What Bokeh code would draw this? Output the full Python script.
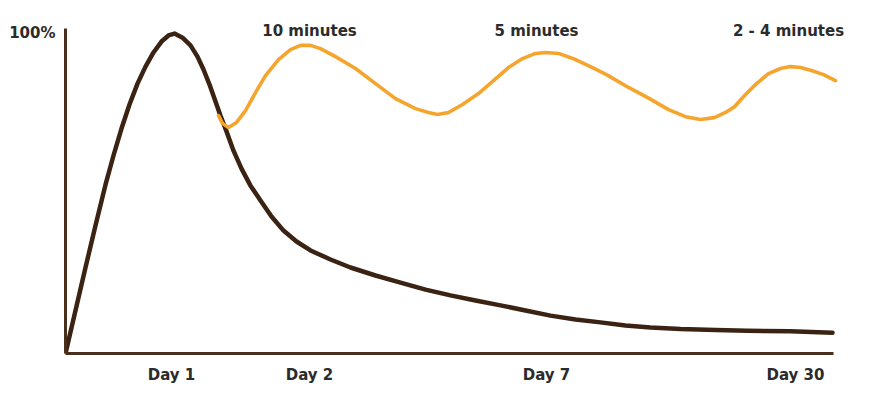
from bokeh.plotting import figure
from bokeh.models import FixedTicker, ColumnDataSource
from bokeh.core.properties import value
from bokeh.embed import file_html
from bokeh.resources import INLINE

# ---- data (x in arbitrary time-position units, y in % retention) ----
memory_x = [0, 10, 20, 30, 40, 48, 56, 64, 72, 80, 88, 96, 103, 109, 117, 125,
            132, 138, 144, 150, 155, 161, 168, 176, 185, 195, 206, 218, 231, 245,
            265, 285, 310, 335, 360, 385, 410, 435, 460, 485, 510, 535, 560, 585,
            615, 650, 682, 725, 767]
memory_y = [0, 13.4, 26.8, 39.9, 52.6, 61.7, 70.1, 77.6, 84.1, 89.4, 93.8, 97.2,
            99.1, 99.7, 98.4, 96.0, 92.5, 88.5, 83.8, 78.5, 74.1, 69.2, 63.2, 57.6,
            52.3, 47.7, 42.7, 38.3, 34.9, 32.1, 29.3, 26.8, 24.3, 22.1, 19.9, 18.1,
            16.5, 15.0, 13.4, 11.8, 10.6, 9.7, 8.7, 8.1, 7.6, 7.3, 7.1, 6.9, 6.5]

review_x = [153, 157, 163, 171, 180, 190, 200, 213, 225, 235, 245, 255, 270, 290,
            310, 330, 350, 363, 372, 383, 397, 413, 428, 443, 457, 470, 480, 493,
            510, 527, 541, 563, 584, 603, 620, 635, 649, 660, 669, 680, 691, 703,
            715, 725, 735, 746, 758, 770]
review_y = [74.1, 71.7, 70.4, 72.0, 75.7, 81.3, 86.6, 91.6, 94.7, 96.0, 96.0, 95.0,
            92.5, 88.8, 84.1, 79.4, 76.3, 75.1, 74.5, 75.1, 77.6, 81.0, 85.0, 89.1,
            91.9, 93.5, 93.8, 93.5, 91.6, 89.1, 86.9, 82.9, 79.4, 76.0, 73.8, 72.9,
            73.5, 75.1, 76.9, 80.7, 84.1, 87.2, 88.8, 89.4, 89.1, 88.2, 86.9, 85.0]

day_labels = ["Day 1", "Day 2", "Day 7", "Day 30"]
day_ticks = [106, 244, 481, 730]

review_labels = ["10 minutes", "5 minutes", "2 - 4 minutes"]
review_label_x = [244, 471, 723]

y_tick_labels = {100: "100%"}

# ---- styles ----
CURVE = "#3b2313"
AXIS = "#4a2f1a"
ORANGE = "#f5a52e"
TEXT = "#2b2b2b"
FONT = "DejaVu Sans"

p = figure(frame_width=790, frame_height=345,
           x_range=(0, 790), y_range=(0, 107.5),
           min_border_left=65, min_border_right=7,
           min_border_top=8, min_border_bottom=39,
           output_backend="svg", toolbar_location=None)
p.background_fill_color = "white"
p.border_fill_color = "white"
p.outline_line_color = None
p.xgrid.visible = False
p.ygrid.visible = False

# x axis
xa = p.xaxis[0]
xa.ticker = FixedTicker(ticks=day_ticks)
xa.major_label_overrides = {t: l for t, l in zip(day_ticks, day_labels)}
xa.bounds = (0, 768)
xa.axis_line_color = AXIS
xa.axis_line_width = 3
xa.major_tick_line_color = None
xa.minor_tick_line_color = None
xa.major_label_standoff = 6
xa.major_label_text_font = FONT
xa.major_label_text_font_style = "bold"
xa.major_label_text_font_size = "15px"
xa.major_label_text_color = TEXT

# y axis
ya = p.yaxis[0]
ya.ticker = FixedTicker(ticks=list(y_tick_labels.keys()))
ya.major_label_overrides = y_tick_labels
ya.bounds = (0, 101.2)
ya.axis_line_color = AXIS
ya.axis_line_width = 3
ya.major_tick_line_color = None
ya.minor_tick_line_color = None
ya.major_label_standoff = 4
ya.major_label_text_font = FONT
ya.major_label_text_font_style = "bold"
ya.major_label_text_font_size = "15px"
ya.major_label_text_color = TEXT

p.line(memory_x, memory_y, line_color=CURVE, line_width=4.5,
       line_join="round", line_cap="round")
p.line(review_x, review_y, line_color=ORANGE, line_width=3.6,
       line_join="round", line_cap="round")

src = ColumnDataSource(dict(x=review_label_x, y=[100.5] * len(review_label_x),
                            t=review_labels))
p.text(x="x", y="y", text="t", source=src, text_align="center",
       text_baseline="alphabetic", text_font=value(FONT),
       text_font_style="bold", text_font_size="15px", text_color=TEXT)

open("out.html", "w").write(file_html(p, INLINE))
